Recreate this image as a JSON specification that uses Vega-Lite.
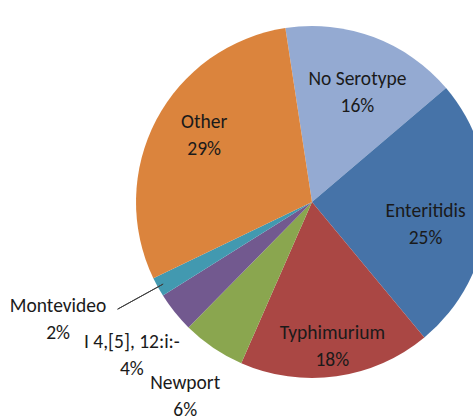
{
  "$schema": "https://vega.github.io/schema/vega-lite/v6.json",
  "width": 473,
  "height": 419,
  "autosize": {"type": "none"},
  "padding": 0,
  "background": "white",
  "config": {"view": {"stroke": null}, "text": {"font": "Carlito, Calibri, Lato", "fontSize": 19.5, "fill": "#1a1a1a", "lineBreak": "\n", "lineHeight": 27}},
  "data": {
    "values": [
      {"i": 1, "name": "No Serotype", "value": 16.2, "txt": "No Serotype\n16%"},
      {"i": 2, "name": "Enteritidis", "value": 25.2, "txt": "Enteritidis\n25%"},
      {"i": 3, "name": "Typhimurium", "value": 17.6, "txt": "Typhimurium\n18%"},
      {"i": 4, "name": "Newport", "value": 5.8, "txt": "Newport\n6%"},
      {"i": 5, "name": "I 4,[5], 12:i:-", "value": 3.7, "txt": "I 4,[5], 12:i:-\n4%"},
      {"i": 6, "name": "Montevideo", "value": 1.8, "txt": "Montevideo\n2%"},
      {"i": 7, "name": "Other", "value": 29.7, "txt": "Other\n29%"}
    ]
  },
  "encoding": {
    "theta": {"field": "value", "type": "quantitative", "stack": true, "scale": {"range": [-0.152, 6.1312]}},
    "order": {"field": "i", "type": "quantitative"}
  },
  "layer": [
    {
      "mark": {"type": "arc", "x": 312, "y": 202, "radius": 176},
      "encoding": {
        "color": {
          "field": "name", "type": "nominal", "legend": null,
          "scale": {
            "domain": ["No Serotype", "Enteritidis", "Typhimurium", "Newport", "I 4,[5], 12:i:-", "Montevideo", "Other"],
            "range": ["#94AAD2", "#4673A8", "#AA4744", "#8AA64F", "#72598F", "#4299B0", "#DB843D"]
          }
        }
      }
    },
    {
      "mark": {"type": "arc", "x": 312, "y": 202, "radius": 170, "radius2": 222, "padAngle": 0.12, "fillOpacity": 0, "stroke": "#404040", "strokeWidth": 1},
      "encoding": {"strokeOpacity": {"condition": {"test": "datum.name === 'Montevideo'", "value": 1}, "value": 0}}
    },
    {
      "mark": {"type": "text", "x": 312, "y": 202, "radius": 130, "dy": -1.5},
      "encoding": {"text": {"condition": {"test": "datum.name === 'No Serotype'", "field": "txt"}, "value": ""}}
    },
    {
      "mark": {"type": "text", "x": 312, "y": 202, "radius": 114, "dy": -0.5},
      "encoding": {"text": {"condition": {"test": "datum.name === 'Enteritidis'", "field": "txt"}, "value": ""}}
    },
    {
      "mark": {"type": "text", "x": 312, "y": 202, "radius": 146, "dy": -13.5},
      "encoding": {"text": {"condition": {"test": "datum.name === 'Typhimurium'", "field": "txt"}, "value": ""}}
    },
    {
      "mark": {"type": "text", "x": 312, "y": 202, "radius": 226, "dy": -6.5},
      "encoding": {"text": {"condition": {"test": "datum.name === 'Newport'", "field": "txt"}, "value": ""}}
    },
    {
      "mark": {"type": "text", "x": 312, "y": 202, "radius": 231, "dy": -4.5},
      "encoding": {"text": {"condition": {"test": "datum.name === 'I 4,[5], 12:i:-'", "field": "txt"}, "value": ""}}
    },
    {
      "mark": {"type": "text", "x": 312, "y": 202, "radius": 290, "dy": -36.5},
      "encoding": {"text": {"condition": {"test": "datum.name === 'Montevideo'", "field": "txt"}, "value": ""}}
    },
    {
      "mark": {"type": "text", "x": 312, "y": 202, "radius": 122, "dy": -23.5},
      "encoding": {"text": {"condition": {"test": "datum.name === 'Other'", "field": "txt"}, "value": ""}}
    }
  ]
}
